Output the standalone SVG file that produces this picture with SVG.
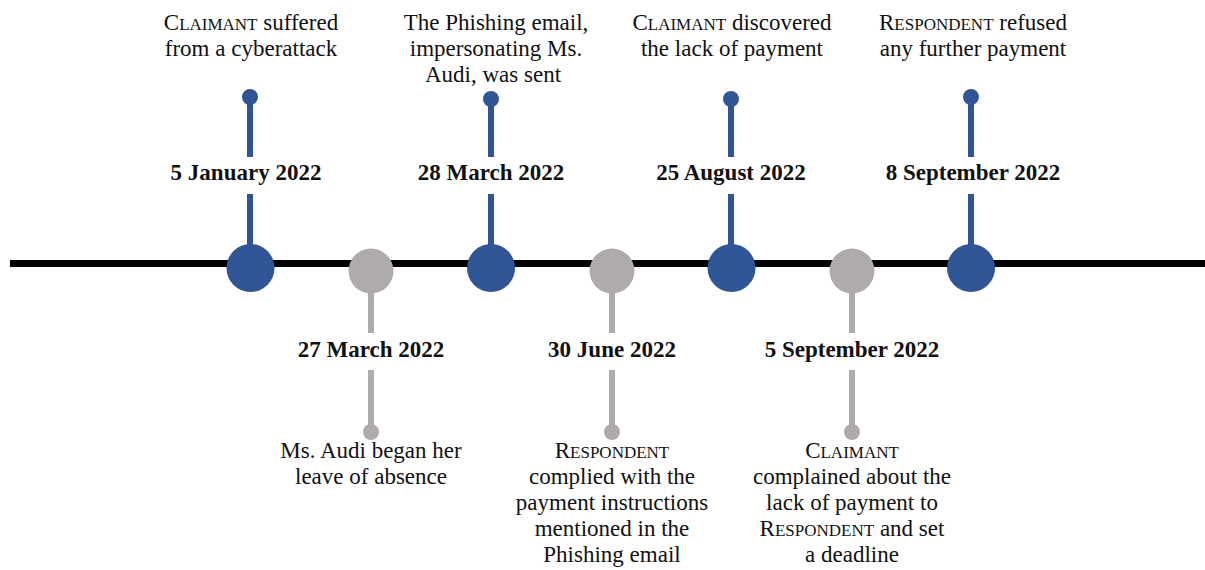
<svg xmlns="http://www.w3.org/2000/svg" width="1205" height="570" viewBox="0 0 1205 570">
<style>
text{font-family:"Liberation Serif","Times New Roman",serif;font-size:23px;fill:#111;text-anchor:middle}
.d{font-weight:bold;font-size:23px}
.sc{font-size:17px}
.blue{fill:#2F5597}
.gray{fill:#AFABAB}
.bs{stroke:#2F5597;stroke-width:6}
.gs{stroke:#AFABAB;stroke-width:6}
</style>
<rect width="1205" height="570" fill="#fff"/>
<g id="connectors">
<line x1="10" y1="263.5" x2="1205" y2="263.5" stroke="#000" stroke-width="7"/>
<line class="bs" x1="250" y1="97" x2="250" y2="157"/><line class="bs" x1="250" y1="194" x2="250" y2="250"/>
<line class="bs" x1="491" y1="99" x2="491" y2="157"/><line class="bs" x1="491" y1="194" x2="491" y2="250"/>
<line class="bs" x1="731" y1="99" x2="731" y2="157"/><line class="bs" x1="731" y1="194" x2="731" y2="250"/>
<line class="bs" x1="971" y1="97" x2="971" y2="157"/><line class="bs" x1="971" y1="194" x2="971" y2="250"/>
<line class="gs" x1="371" y1="285" x2="371" y2="333"/><line class="gs" x1="371" y1="370" x2="371" y2="432"/>
<line class="gs" x1="612" y1="285" x2="612" y2="333"/><line class="gs" x1="612" y1="370" x2="612" y2="432"/>
<line class="gs" x1="852" y1="285" x2="852" y2="333"/><line class="gs" x1="852" y1="370" x2="852" y2="432"/>
</g>
<g id="n1">
<circle class="blue" cx="250" cy="97" r="8"/><circle class="blue" cx="250.5" cy="268" r="24"/>
<text x="246" y="180" class="d">5 January 2022</text>
<text x="251" y="30">C<tspan class="sc">LAIMANT</tspan> suffered</text>
<text x="251" y="56">from a cyberattack</text>
</g>
<g id="n2">
<circle class="gray" cx="371" cy="271" r="22.5"/><circle class="gray" cx="371" cy="432" r="8"/>
<text x="371" y="357" class="d">27 March 2022</text>
<text x="371" y="458">Ms. Audi began her</text>
<text x="371" y="484">leave of absence</text>
</g>
<g id="n3">
<circle class="blue" cx="491" cy="99" r="8"/><circle class="blue" cx="491" cy="268" r="24"/>
<text x="491" y="180" class="d">28 March 2022</text>
<text x="496" y="30">The Phishing email,</text>
<text x="496" y="56">impersonating Ms.</text>
<text x="493" y="82">Audi, was sent</text>
</g>
<g id="n4">
<circle class="gray" cx="612" cy="271" r="22.5"/><circle class="gray" cx="612" cy="432" r="8"/>
<text x="612" y="357" class="d">30 June 2022</text>
<text x="612" y="458">R<tspan class="sc">ESPONDENT</tspan></text>
<text x="612" y="484">complied with the</text>
<text x="612" y="510">payment instructions</text>
<text x="612" y="536">mentioned in the</text>
<text x="612" y="562">Phishing email</text>
</g>
<g id="n5">
<circle class="blue" cx="731" cy="99" r="8"/><circle class="blue" cx="731.5" cy="268" r="24"/>
<text x="731" y="180" class="d">25 August 2022</text>
<text x="732" y="30">C<tspan class="sc">LAIMANT</tspan> discovered</text>
<text x="732" y="56">the lack of payment</text>
</g>
<g id="n6">
<circle class="gray" cx="852" cy="271" r="22.5"/><circle class="gray" cx="852" cy="432" r="8"/>
<text x="852" y="357" class="d">5 September 2022</text>
<text x="852" y="458">C<tspan class="sc">LAIMANT</tspan></text>
<text x="852" y="484">complained about the</text>
<text x="852" y="510">lack of payment to</text>
<text x="852" y="536">R<tspan class="sc">ESPONDENT</tspan> and set</text>
<text x="852" y="562">a deadline</text>
</g>
<g id="n7">
<circle class="blue" cx="971" cy="97" r="8"/><circle class="blue" cx="971" cy="268" r="24"/>
<text x="973" y="180" class="d">8 September 2022</text>
<text x="973" y="30">R<tspan class="sc">ESPONDENT</tspan> refused</text>
<text x="973" y="56">any further payment</text>
</g>
</svg>
